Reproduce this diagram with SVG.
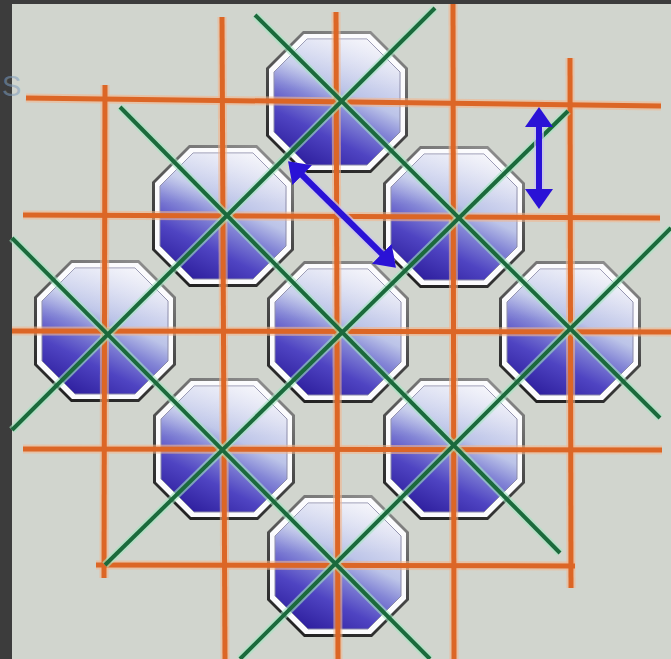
<svg xmlns="http://www.w3.org/2000/svg" xmlns:xlink="http://www.w3.org/1999/xlink" width="671" height="659" viewBox="0 0 671 659">
  <defs>
    <linearGradient id="ring" x1="0.7" y1="0" x2="0.3" y2="1">
      <stop offset="0" stop-color="#8c8c8c"/>
      <stop offset="0.5" stop-color="#4a4a4a"/>
      <stop offset="1" stop-color="#222222"/>
    </linearGradient>
    <linearGradient id="blue" x1="0.25" y1="1" x2="0.75" y2="0">
      <stop offset="0" stop-color="#2e1f9e"/>
      <stop offset="0.25" stop-color="#4f44c2"/>
      <stop offset="0.45" stop-color="#8486d6"/>
      <stop offset="0.6" stop-color="#bcc4e8"/>
      <stop offset="1" stop-color="#f0f0f8"/>
    </linearGradient>
    <linearGradient id="shine" x1="0" y1="0" x2="0" y2="1">
      <stop offset="0" stop-color="#ffffff" stop-opacity="0.35"/>
      <stop offset="0.4" stop-color="#ffffff" stop-opacity="0"/>
    </linearGradient>
    <g id="octagon">
      <polygon points="-34,-71 34,-71 71,-34 71,34 34,71 -34,71 -71,34 -71,-34" fill="url(#ring)"/>
      <polygon points="-33,-68 33,-68 68,-33 68,33 33,68 -33,68 -68,33 -68,-33" fill="#fbfbfd"/>
      <polygon points="-30,-63 30,-63 63,-30 63,30 30,63 -30,63 -63,30 -63,-30" fill="url(#blue)" stroke="#8a8aa8" stroke-width="1"/>
      <polygon points="-30,-63 30,-63 63,-30 63,30 30,63 -30,63 -63,30 -63,-30" fill="url(#shine)"/>
    </g>
    <marker id="head" viewBox="0 0 20 28" refX="6" refY="14" markerWidth="20" markerHeight="28" markerUnits="userSpaceOnUse" orient="auto-start-reverse">
      <path d="M0,0 L20,14 L0,28 Z" fill="#2a12d6"/>
    </marker>
    <style>
      .oh { stroke: #f1b68e; stroke-width: 9; stroke-opacity: 0.6; fill: none; }
      .oc { stroke: #dc6626; stroke-width: 5; fill: none; }
      .gh { stroke: #a4e6c2; stroke-width: 8; stroke-opacity: 0.6; fill: none; }
      .gc { stroke: #1b6a3c; stroke-width: 4; fill: none; }
      .ah { stroke: #c9c2f2; stroke-width: 10; stroke-opacity: 0.7; fill: none; }
      .ac { stroke: #2a12d6; stroke-width: 6; fill: none; }
    </style>
  </defs>

  <rect x="0" y="0" width="671" height="659" fill="#3c3c3c"/>
  <rect x="12" y="4" width="659" height="655" fill="#d1d5ce"/>
  <text x="2" y="96" font-family="Liberation Sans, Arial, sans-serif" font-size="29" fill="#7f9cbc" fill-opacity="0.55">S</text>

  <g id="nodes">
    <g id="oct-top"><use xlink:href="#octagon" href="#octagon" transform="translate(337,102)"/></g>
    <g id="oct-upper-left"><use xlink:href="#octagon" href="#octagon" transform="translate(223,216)"/></g>
    <g id="oct-upper-right"><use xlink:href="#octagon" href="#octagon" transform="translate(454,217)"/></g>
    <g id="oct-left"><use xlink:href="#octagon" href="#octagon" transform="translate(105,331)"/></g>
    <g id="oct-center"><use xlink:href="#octagon" href="#octagon" transform="translate(338,332)"/></g>
    <g id="oct-right"><use xlink:href="#octagon" href="#octagon" transform="translate(570,332)"/></g>
    <g id="oct-lower-left"><use xlink:href="#octagon" href="#octagon" transform="translate(224,449)"/></g>
    <g id="oct-lower-right"><use xlink:href="#octagon" href="#octagon" transform="translate(454,449)"/></g>
    <g id="oct-bottom"><use xlink:href="#octagon" href="#octagon" transform="translate(338,566)"/></g>
  </g>

  <g id="connectors">
    <g id="orange-grid">
      <g id="orange-halo">
        <line class="oh" x1="26" y1="98" x2="661" y2="106"/>
        <line class="oh" x1="23" y1="215" x2="660" y2="218"/>
        <line class="oh" x1="12" y1="331" x2="671" y2="332"/>
        <line class="oh" x1="23" y1="449" x2="662" y2="450"/>
        <line class="oh" x1="96" y1="565" x2="575" y2="566"/>
        <line class="oh" x1="105" y1="85" x2="104" y2="578"/>
        <line class="oh" x1="222" y1="17" x2="225" y2="659"/>
        <line class="oh" x1="336" y1="12" x2="338" y2="659"/>
        <line class="oh" x1="453" y1="4" x2="454" y2="659"/>
        <line class="oh" x1="570" y1="58" x2="571" y2="588"/>
      </g>
      <line class="oc" x1="26" y1="98" x2="661" y2="106"/>
      <line class="oc" x1="23" y1="215" x2="660" y2="218"/>
      <line class="oc" x1="12" y1="331" x2="671" y2="332"/>
      <line class="oc" x1="23" y1="449" x2="662" y2="450"/>
      <line class="oc" x1="96" y1="565" x2="575" y2="566"/>
      <line class="oc" x1="105" y1="85" x2="104" y2="578"/>
      <line class="oc" x1="222" y1="17" x2="225" y2="659"/>
      <line class="oc" x1="336" y1="12" x2="338" y2="659"/>
      <line class="oc" x1="453" y1="4" x2="454" y2="659"/>
      <line class="oc" x1="570" y1="58" x2="571" y2="588"/>
    </g>
    <g id="green-diagonals">
      <g id="green-halo">
        <line class="gh" x1="255" y1="15" x2="660" y2="418"/>
        <line class="gh" x1="120" y1="107" x2="560" y2="553"/>
        <line class="gh" x1="12" y1="238" x2="430" y2="659"/>
        <line class="gh" x1="435" y1="8" x2="12" y2="430"/>
        <line class="gh" x1="568" y1="111" x2="105" y2="565"/>
        <line class="gh" x1="671" y1="228" x2="240" y2="659"/>
      </g>
      <line class="gc" x1="255" y1="15" x2="660" y2="418"/>
      <line class="gc" x1="120" y1="107" x2="560" y2="553"/>
      <line class="gc" x1="12" y1="238" x2="430" y2="659"/>
      <line class="gc" x1="435" y1="8" x2="12" y2="430"/>
      <line class="gc" x1="568" y1="111" x2="105" y2="565"/>
      <line class="gc" x1="671" y1="228" x2="240" y2="659"/>
    </g>
    <g id="blue-arrows">
      <line class="ah" x1="292" y1="165" x2="392" y2="264"/>
      <line class="ah" x1="539" y1="112" x2="539" y2="204"/>
      <line class="ac" x1="298" y1="171" x2="386" y2="258" marker-start="url(#head)" marker-end="url(#head)"/>
      <line class="ac" x1="539" y1="121" x2="539" y2="195" marker-start="url(#head)" marker-end="url(#head)"/>
    </g>
  </g>
</svg>
